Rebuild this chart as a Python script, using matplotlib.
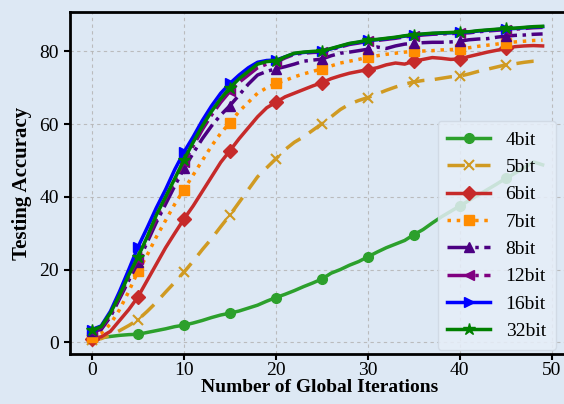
import matplotlib
matplotlib.use("Agg")
import matplotlib.pyplot as plt
import numpy as np

iterations = list(range(50))

acc_4bit = [1.0, 1.3, 1.6, 1.9, 2.1, 2.2, 2.7, 3.2, 3.7, 4.3,
            4.7, 5.3, 6.0, 6.8, 7.5, 8.0, 8.6, 9.4, 10.2, 11.3,
            12.3, 13.2, 14.2, 15.3, 16.3, 17.4, 19.0, 20.0, 21.2, 22.2,
            23.5, 24.8, 26.0, 27.0, 28.0, 29.6, 31.0, 32.8, 34.5, 36.0,
            37.5, 39.0, 40.5, 42.0, 43.5, 45.1, 46.5, 48.0, 49.6, 48.8]
acc_5bit = [0.5, 1.0, 2.0, 3.2, 4.6, 6.2, 8.5, 11.0, 13.8, 16.5,
            19.3, 22.3, 25.5, 28.5, 31.8, 35.0, 38.5, 42.0, 45.5, 48.0,
            50.5, 53.0, 55.0, 56.5, 58.3, 60.1, 62.0, 64.0, 65.5, 66.5,
            67.3, 68.3, 69.3, 70.2, 71.0, 71.6, 72.0, 72.2, 72.6, 73.0,
            73.2, 73.8, 74.5, 75.1, 75.7, 76.3, 76.6, 77.0, 77.3, 77.4]
acc_6bit = [1.0, 1.5, 3.0, 6.0, 9.0, 12.5, 17.0, 21.5, 26.0, 30.0,
            33.9, 37.5, 41.5, 45.5, 49.5, 52.7, 56.0, 59.0, 62.0, 64.5,
            66.0, 67.5, 68.5, 69.5, 70.5, 71.4, 72.5, 73.3, 74.0, 74.5,
            75.0, 75.5, 76.3, 76.8, 76.5, 77.3, 77.8, 78.3, 78.1, 77.8,
            77.9, 78.6, 79.2, 79.8, 80.3, 80.8, 81.3, 81.5, 81.6, 81.5]
acc_7bit = [1.5, 2.5, 5.0, 9.0, 14.0, 19.5, 24.0, 29.0, 33.5, 38.0,
            42.0, 46.0, 50.0, 54.0, 57.5, 60.4, 63.5, 66.0, 68.5, 70.0,
            71.2, 72.0, 73.0, 73.8, 74.5, 75.2, 76.0, 76.8, 77.3, 77.8,
            78.4, 78.8, 79.2, 79.5, 79.8, 80.0, 80.1, 80.2, 80.4, 80.5,
            80.6, 81.0, 81.4, 81.7, 82.0, 82.4, 82.6, 82.8, 83.0, 83.1]
acc_8bit = [3.0, 3.5, 7.0, 12.0, 17.0, 22.0, 27.5, 33.0, 38.0, 43.0,
            47.8, 52.0, 56.0, 59.5, 62.5, 65.1, 68.0, 71.0, 73.5, 74.5,
            75.2, 75.8, 76.5, 77.3, 77.6, 77.9, 78.8, 79.5, 79.8, 80.2,
            80.6, 81.2, 80.8, 81.5, 82.0, 82.2, 82.4, 82.5, 82.5, 82.6,
            82.8, 83.2, 83.4, 83.5, 83.9, 84.2, 84.4, 84.5, 84.7, 84.8]
acc_12bit = [3.0, 4.0, 7.5, 12.5, 18.0, 23.0, 28.5, 34.0, 39.5, 44.5,
             49.5, 54.0, 58.5, 62.5, 66.0, 69.0, 71.5, 73.5, 75.5, 76.5,
             77.0, 78.2, 79.2, 79.5, 79.7, 79.8, 80.5, 81.2, 81.9, 82.3,
             82.8, 83.0, 83.3, 83.6, 84.0, 84.3, 84.5, 84.7, 84.8, 84.9,
             85.0, 85.1, 85.4, 85.6, 85.8, 86.0, 86.1, 86.3, 86.5, 86.6]
acc_16bit = [3.5, 4.5, 8.5, 14.0, 20.0, 26.2, 31.5, 37.0, 42.0, 47.5,
             52.3, 56.5, 61.0, 65.0, 68.5, 71.2, 73.5, 75.5, 77.0, 77.5,
             77.6, 78.5, 79.4, 79.7, 79.9, 80.0, 80.7, 81.4, 82.1, 82.5,
             83.0, 83.2, 83.5, 83.8, 84.2, 84.5, 84.7, 84.9, 85.0, 85.1,
             85.2, 85.3, 85.6, 85.8, 86.0, 86.2, 86.3, 86.5, 86.7, 86.8]
acc_32bit = [3.3, 4.3, 8.0, 13.0, 18.5, 23.5, 29.0, 35.0, 40.0, 45.0,
             50.2, 55.0, 59.5, 63.5, 67.0, 70.0, 72.5, 74.5, 76.5, 77.2,
             77.4, 78.5, 79.5, 79.8, 80.0, 80.1, 80.8, 81.5, 82.2, 82.6,
             83.1, 83.3, 83.6, 83.9, 84.3, 84.6, 84.8, 85.0, 85.1, 85.2,
             85.3, 85.4, 85.7, 85.9, 86.1, 86.3, 86.4, 86.6, 86.8, 86.9]

labels = ["4bit", "5bit", "6bit", "7bit", "8bit", "12bit", "16bit", "32bit"]
series = [acc_4bit, acc_5bit, acc_6bit, acc_7bit, acc_8bit, acc_12bit, acc_16bit, acc_32bit]
colors = ["#2ca02c", "#d09a22", "#c62a2a", "#ff8c00", "#4b0082", "#800080", "#0000ff", "#008000"]
styles = ["-", (0, (5, 3)), "-", ":", "-.", "-.", "-", "-"]
markers = ["o", "x", "D", "s", "^", "<", ">", "*"]

bg = "#dde8f4"
plt.rcParams["font.family"] = ["Liberation Serif", "DejaVu Serif"]

fig = plt.figure(figsize=(5.64, 4.04), dpi=100, facecolor=bg)
ax = fig.add_axes([0.124, 0.124, 0.887, 0.846], facecolor=bg)

for lab, ys, c, ls, m in zip(labels, series, colors, styles, markers):
    ms = 9 if m == "*" else 7
    ax.plot(iterations, ys, color=c, linestyle=ls, marker=m, markevery=5,
            markersize=ms, linewidth=2.5, label=lab,
            markeredgewidth=1.5 if m == "x" else 1.0)

ax.set_xlim(-2.4, 52)
ax.set_ylim(-3.2, 90.8)
ax.set_xticks([0, 10, 20, 30, 40, 50])
ax.set_yticks([0, 20, 40, 60, 80])
ax.tick_params(labelsize=14, length=4, width=1.5, direction="out", pad=2)
ax.tick_params(axis="y", pad=4)
ax.grid(True, linestyle=(0, (3, 3)), color="#b4b4b4", linewidth=0.8, alpha=0.85)
ax.set_axisbelow(True)
for side in ["left", "bottom", "top"]:
    ax.spines[side].set_linewidth(2.0)
    ax.spines[side].set_color("black")
ax.spines["right"].set_visible(False)

ax.set_xlabel("Number of Global Iterations", fontsize=14, fontweight="bold", labelpad=0)
ax.set_ylabel("Testing Accuracy", fontsize=15, fontweight="bold", labelpad=5)

leg = ax.legend(loc="lower right", bbox_to_anchor=(0.971, 0.012), borderaxespad=0,
                fontsize=14, frameon=True, framealpha=0.85, facecolor="#e6eef8",
                edgecolor="#cfd8e3", handlelength=2.2, labelspacing=0.5,
                borderpad=0.5, fancybox=True)

fig.savefig("out.png", dpi=100, facecolor=bg)
